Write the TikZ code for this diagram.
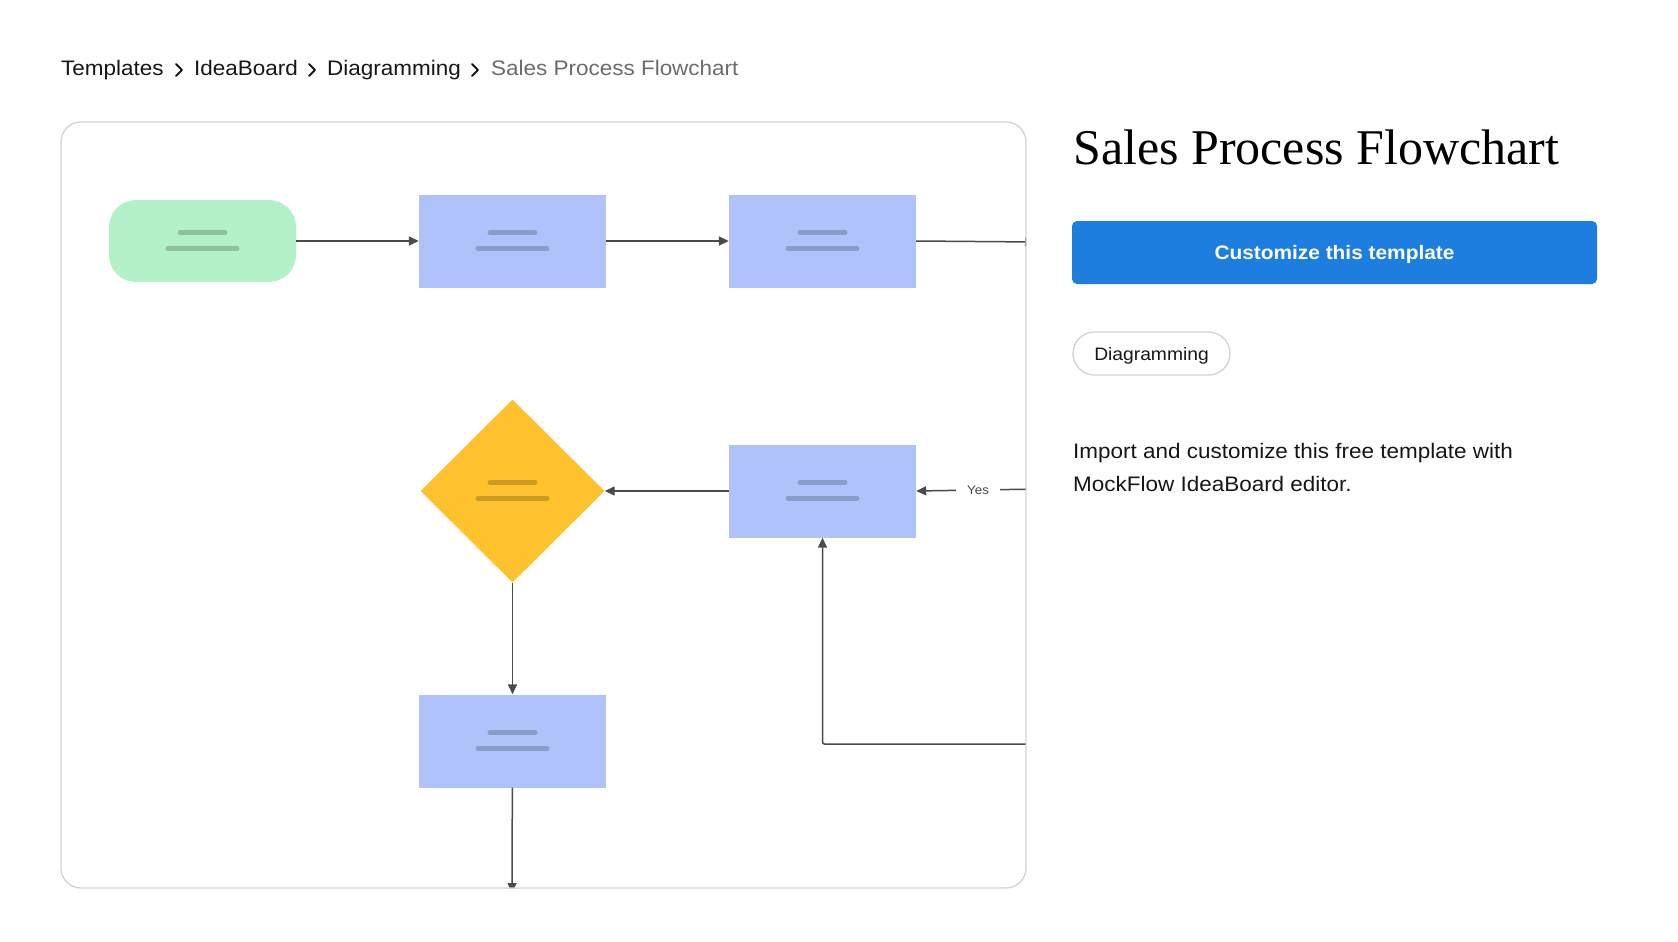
\documentclass[tikz,border=0pt]{standalone}
\usepackage{fontspec}
\setmainfont{Liberation Sans}[FakeStretch=1.07]
\newfontfamily\headfont{Liberation Serif}
\usetikzlibrary{positioning, shapes.geometric, arrows.meta}
\usepackage{xcolor}
\newcommand{\LblYes}{\fontsize{12.5}{15}\selectfont Yes}
\newcommand{\CrumbFont}{\fontsize{21}{25}\selectfont}
\newcommand{\TitleFont}{\headfont\fontsize{50}{56}\selectfont}
\newcommand{\ButtonFont}{\bfseries\fontsize{19.5}{23}\selectfont}
\newcommand{\TagFont}{\fontsize{18}{22}\selectfont}
\newcommand{\DescFont}{\fontsize{21}{25}\selectfont}
\definecolor{mygreen}{HTML}{B3F1C8}
\definecolor{myblue}{HTML}{AFC3FA}
\definecolor{myyellow}{HTML}{FEC22F}
\definecolor{myline}{HTML}{4A4A4A}
\definecolor{mybutton}{HTML}{1D7EE0}
\definecolor{mycard}{HTML}{D2D2D2}
\definecolor{mygray}{HTML}{6B6B6B}
\definecolor{myink}{HTML}{161616}

\tikzset{
  bars/.style={path picture={
    \draw[line width=5pt, line cap=round, black, opacity=0.2]
      ([xshift=-22.5pt,yshift=8.5pt]path picture bounding box.center) -- ++(45pt,0pt)
      ([xshift=-34.5pt,yshift=-7.5pt]path picture bounding box.center) -- ++(69pt,0pt);
  }},
  pill/.style={rectangle, rounded corners=27pt, fill=mygreen, minimum width=187pt,
    minimum height=82pt, inner sep=0pt, bars},
  box/.style={rectangle, fill=myblue, minimum width=187pt, minimum height=93pt,
    inner sep=0pt, bars},
  decision/.style={diamond, fill=myyellow, minimum width=184pt, minimum height=183pt,
    inner sep=0pt, bars},
  link/.style={->, draw=myline, line width=1.5pt},
  yeslbl/.style={fill=white, text=myline, inner xsep=11pt, inner ysep=2pt},
  crumb/.style={anchor=base west, inner sep=0pt, font=\CrumbFont, text=myink},
  chevron/.style={draw=myink, line width=1.8pt, line cap=round, line join=round},
  desc/.style={anchor=base west, inner sep=0pt, font=\DescFont, text=myink}
}

\begin{document}
\begin{tikzpicture}[>={Triangle[length=10pt,width=9pt]}, x=1pt, y=-1pt,
    node distance=250pt and 310pt, on grid]
  \useasboundingbox (0,0) rectangle (1678,942);

  % breadcrumb
  \node[crumb] (crTemplates) at (61,76) {Templates};
  \node[crumb] (crIdea) at (194,76) {IdeaBoard};
  \node[crumb] (crDiag) at (327,76) {Diagramming};
  \node[crumb, text=mygray] (crSales) at (491,76) {Sales Process Flowchart};
  \foreach \x in {176,309,472}
    \draw[chevron] (\x,64) -- ++(6,6) -- ++(-6,6);

  % flowchart card
  \begin{scope}
    \clip[rounded corners=20pt] (61,122) rectangle (1026,888);
    \node[pill] (Start) at (202.5,241) {};
    \node[box, right=of Start] (Lead) {};
    \node[box, right=of Lead] (Qualify) {};
    \node[box, below=of Qualify] (Meeting) {};
    \node[decision, below=of Lead] (Decide) {};
    \node[box, below=of Decide] (Close) {};
    \coordinate (OutRight) at (1035,242);
    \coordinate (InYes) at (1040,489);
    \coordinate (InLoop) at (1040,744);
    \coordinate (OutDown) at (512,893);

    \draw[link] (Start) -- (Lead);
    \draw[link] (Lead) -- (Qualify);
    \draw[link] (Qualify.east) -- (OutRight);
    \draw[link] (InYes) -- node[yeslbl]{\LblYes} (Meeting.east);
    \draw[link] (Meeting) -- (Decide);
    \draw[link] (Decide) -- (Close);
    \draw[link] (Close) -- (OutDown);
    \draw[link, rounded corners=2pt] (InLoop) -| (Meeting.south);
  \end{scope}
  \draw[mycard, line width=1.3pt, rounded corners=20pt] (61,122) rectangle (1026,888);

  % side panel
  \node[anchor=base west, inner sep=0pt, font=\TitleFont] (title) at (1073,164)
    {Sales Process Flowchart};
  \node[fill=mybutton, rounded corners=5pt, minimum width=525pt, minimum height=63pt,
    text depth=0pt, text=white, font=\ButtonFont] (custom) at (1334.5,252.5)
    {Customize this template};
  \node[draw=mycard, line width=1.3pt, rounded corners=21.5pt, minimum width=157pt,
    minimum height=43pt, text depth=0pt, font=\TagFont, text=myink] (tagDiag)
    at (1151.5,353.5) {Diagramming};
  \node[desc] (desc1) at (1073,458) {Import and customize this free template with};
  \node[desc] (desc2) at (1073,491) {MockFlow IdeaBoard editor.};
\end{tikzpicture}
\end{document}
